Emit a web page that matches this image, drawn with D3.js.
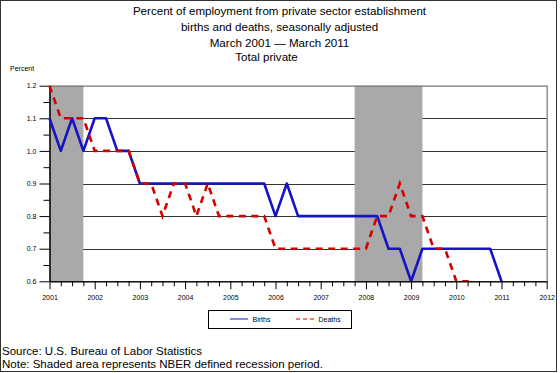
<!DOCTYPE html>
<html>
<head>
<meta charset="utf-8">
<style>
  body { margin: 0; background: #fff; }
  svg { display: block; font-family: "Liberation Sans", Arial, sans-serif; }
  .grid line { stroke: #333; stroke-width: 1px; }
  .axis path, .axis line { stroke: #000; stroke-width: 1px; }
  .axis text { font-size: 7px; fill: #000; font-family: "Liberation Sans", Arial, sans-serif; }
  .births { fill: none; stroke: #1414c4; stroke-width: 2.6px; stroke-linejoin: round; }
  .deaths { fill: none; stroke: #d40000; stroke-width: 2.6px; stroke-dasharray: 7,5.5; }
</style>
</head>
<body>
<div id="chart"></div>
<script src="https://cdn.jsdelivr.net/npm/d3@7"></script>
<script>
  var width = 560, height = 373;

  // quarterly values, March 2001 .. March 2011
  var startYear = 2001;
  var births = [
    1.1, 1.0, 1.1, 1.0,
    1.1, 1.1, 1.0, 1.0,
    0.9, 0.9, 0.9, 0.9,
    0.9, 0.9, 0.9, 0.9,
    0.9, 0.9, 0.9, 0.9,
    0.8, 0.9, 0.8, 0.8,
    0.8, 0.8, 0.8, 0.8,
    0.8, 0.8, 0.7, 0.7,
    0.6, 0.7, 0.7, 0.7,
    0.7, 0.7, 0.7, 0.7,
    0.6
  ];
  var deaths = [
    1.2, 1.1, 1.1, 1.1,
    1.0, 1.0, 1.0, 1.0,
    0.9, 0.9, 0.8, 0.9,
    0.9, 0.8, 0.9, 0.8,
    0.8, 0.8, 0.8, 0.8,
    0.7, 0.7, 0.7, 0.7,
    0.7, 0.7, 0.7, 0.7,
    0.7, 0.8, 0.8, 0.9,
    0.8, 0.8, 0.7, 0.7,
    0.6, 0.6, 0.5, 0.5,
    0.5
  ];
  var recessionStart = [2001.0, 2007.75];
  var recessionEnd = [2001.75, 2009.25];
  var yearTicks = [2001, 2002, 2003, 2004, 2005, 2006, 2007, 2008, 2009, 2010, 2011, 2012];
  var yTicks = [0.6, 0.7, 0.8, 0.9, 1.0, 1.1, 1.2];
  var gridValues = [0.7, 0.8, 0.9, 1.0, 1.1];
  var titleLines = [
    "Percent of employment from private sector establishment",
    "births and deaths, seasonally adjusted",
    "March 2001 \u2014 March 2011",
    "Total private"
  ];

  var x = d3.scaleLinear().domain([2001, 2012]).range([49.5, 546.7]);
  var y = d3.scaleLinear().domain([0.6, 1.2]).range([281.3, 85.7]);

  var svg = d3.select("#chart").append("svg")
      .attr("width", width)
      .attr("height", height);

  // outer frame
  svg.append("rect")
      .attr("x", 0.5).attr("y", 0.5)
      .attr("width", 556).attr("height", 371)
      .attr("fill", "none").attr("stroke", "#333");

  // titles
  var titleY = [14.5, 30.5, 47, 61];
  var titleX = [279.5, 279.5, 279.5, 266.5];
  svg.selectAll(".title").data(titleLines).enter().append("text")
      .attr("class", "title")
      .attr("x", function(d, i) { return titleX[i]; })
      .attr("y", function(d, i) { return titleY[i]; })
      .attr("text-anchor", "middle")
      .style("font-size", "11.6px")
      .text(function(d) { return d; });

  svg.append("text")
      .attr("x", 10).attr("y", 71)
      .style("font-size", "7px")
      .text("Percent");

  // grid
  svg.append("g").attr("class", "grid")
    .selectAll("line").data(gridValues).enter().append("line")
      .attr("x1", x.range()[0]).attr("x2", x.range()[1])
      .attr("y1", function(d) { return Math.round(y(d)) + 0.5; })
      .attr("y2", function(d) { return Math.round(y(d)) + 0.5; });

  // recession shading
  svg.selectAll(".recession").data(recessionStart).enter().append("rect")
      .attr("class", "recession")
      .attr("x", function(d) { return x(d); })
      .attr("y", y(1.2))
      .attr("width", function(d, i) { return x(recessionEnd[i]) - x(d); })
      .attr("height", y(0.6) - y(1.2))
      .attr("fill", "#a9a9a9");

  // top and right frame
  svg.append("path")
      .attr("d", "M" + x(2001) + "," + (y(1.2) + 0.5) + "H" + (x(2012) + 0.5) + "V" + y(0.6))
      .attr("fill", "none").attr("stroke", "#777").attr("stroke-width", 1.2);

  // axes
  var yAxis = d3.axisLeft(y).tickValues(yTicks).tickSize(10).tickSizeOuter(0)
      .tickPadding(3).tickFormat(d3.format(".1f"));
  var yMinor = d3.axisLeft(y).tickValues(d3.range(0.65, 1.2, 0.1)).tickSize(6)
      .tickSizeOuter(0).tickFormat("");
  var xAxis = d3.axisBottom(x).tickValues(yearTicks).tickSize(8).tickSizeOuter(0)
      .tickPadding(6).tickFormat(d3.format("d"));
  var quarterTicks = [];
  yearTicks.slice(0, -1).forEach(function(yr) {
    quarterTicks.push(yr + 0.25, yr + 0.5, yr + 0.75);
  });
  var xMinor = d3.axisBottom(x).tickValues(quarterTicks).tickSize(5)
      .tickSizeOuter(0).tickFormat("");

  svg.append("g").attr("class", "axis").attr("transform", "translate(" + x(2001) + ",0)").call(yMinor);
  svg.append("g").attr("class", "axis").attr("transform", "translate(" + x(2001) + ",0)").call(yAxis);
  svg.append("g").attr("class", "axis").attr("transform", "translate(0," + y(0.6) + ")").call(xMinor);
  svg.append("g").attr("class", "axis").attr("transform", "translate(0," + y(0.6) + ")").call(xAxis);

  // lines
  svg.append("clipPath").attr("id", "plot")
    .append("rect")
      .attr("x", x(2001) - 3).attr("y", y(1.2) - 3)
      .attr("width", x(2012) - x(2001) + 6)
      .attr("height", y(0.6) - y(1.2) + 3);

  var line = d3.line()
      .x(function(d, i) { return x(startYear + i / 4); })
      .y(function(d) { return y(d); });

  svg.append("path").datum(births).attr("class", "births")
      .attr("clip-path", "url(#plot)").attr("d", line);
  svg.append("path").datum(deaths).attr("class", "deaths")
      .attr("clip-path", "url(#plot)").attr("d", line);

  // legend
  var legend = svg.append("g");
  legend.append("rect")
      .attr("x", 208.5).attr("y", 310.5).attr("width", 143).attr("height", 18)
      .attr("fill", "none").attr("stroke", "#000");
  legend.append("line")
      .attr("x1", 230).attr("x2", 248).attr("y1", 319).attr("y2", 319)
      .attr("stroke", "#1414c4").attr("stroke-width", 1);
  legend.append("text").attr("x", 252.5).attr("y", 321.5)
      .style("font-size", "7px").text("Births");
  legend.append("line")
      .attr("x1", 296).attr("x2", 314).attr("y1", 319).attr("y2", 319)
      .attr("stroke", "#d40000").attr("stroke-width", 1)
      .attr("stroke-dasharray", "4,3");
  legend.append("text").attr("x", 318.5).attr("y", 321.5)
      .style("font-size", "7px").text("Deaths");

  // footnotes
  svg.append("text").attr("x", 2).attr("y", 355)
      .style("font-size", "11.5px")
      .text("Source: U.S. Bureau of Labor Statistics");
  svg.append("text").attr("x", 2).attr("y", 367.5)
      .style("font-size", "11.5px")
      .text("Note: Shaded area represents NBER defined recession period.");
</script>
</body>
</html>
